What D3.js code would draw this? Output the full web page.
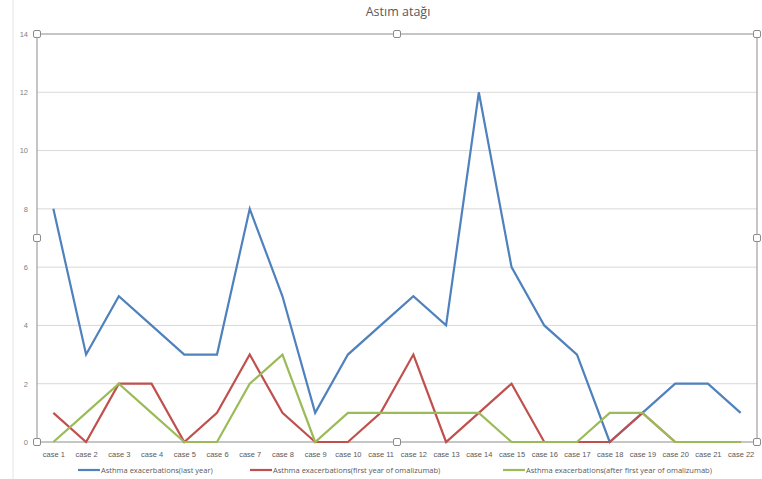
<!DOCTYPE html>
<html>
<head>
<meta charset="utf-8">
<script src="https://cdn.jsdelivr.net/npm/d3@7"></script>
<style>
  body { margin: 0; background: #fff; }
  svg { font-family: "Open Sans", "DejaVu Sans", sans-serif; }
</style>
</head>
<body>
<svg id="chart"></svg>
<script>
// chart values
const cases = d3.range(1, 23).map(i => 'case ' + i);
const lastYear = [8, 3, 5, 4, 3, 3, 8, 5, 1, 3, 4, 5, 4, 12, 6, 4, 3, 0, 1, 2, 2, 1];
const firstYear = [1, 0, 2, 2, 0, 1, 3, 1, 0, 0, 1, 3, 0, 1, 2, 0, 0, 0, 1, 0, 0, 0];
const afterFirstYear = [0, 1, 2, 1, 0, 0, 2, 3, 0, 1, 1, 1, 1, 1, 0, 0, 0, 1, 1, 0, 0, 0];
const yTicks = [0, 2, 4, 6, 8, 10, 12, 14];
const seriesNames = [
  'Asthma exacerbations(last year)',
  'Asthma exacerbations(first year of omalizumab)',
  'Asthma exacerbations(after first year of omalizumab)'
];
const seriesColors = ['#4f81bd', '#c0504d', '#9bbb59'];

const width = 762, height = 479;
const margin = { top: 34, right: 5, bottom: 37, left: 37 };
const innerW = width - margin.left - margin.right;
const innerH = height - margin.top - margin.bottom;

const svg = d3.select('#chart')
  .attr('width', width)
  .attr('height', height);

// outer chart frame (faint)
svg.append('line')
  .attr('x1', 13).attr('x2', 13)
  .attr('y1', 0).attr('y2', height)
  .attr('stroke', '#e4e4e4');

svg.append('text')
  .attr('x', 398)
  .attr('y', 16)
  .attr('text-anchor', 'middle')
  .attr('fill', '#595959')
  .style('font-size', '12.5px')
  .text('Astım atağı');

const g = svg.append('g')
  .attr('transform', `translate(${margin.left},${margin.top})`);

const x = d3.scalePoint()
  .domain(cases)
  .range([0, innerW])
  .padding(0.5);

const y = d3.scaleLinear()
  .domain([0, 14])
  .range([innerH, 0]);

// gridlines
g.append('g')
  .selectAll('line')
  .data(yTicks.filter(d => d > 0 && d < 14))
  .join('line')
  .attr('x1', 0).attr('x2', innerW)
  .attr('y1', d => y(d)).attr('y2', d => y(d))
  .attr('stroke', '#d9d9d9');

// y axis labels
const yAxis = d3.axisLeft(y).tickValues(yTicks).tickSize(0).tickPadding(9);
g.append('g')
  .call(yAxis)
  .call(s => s.select('.domain').remove())
  .selectAll('text')
  .attr('fill', '#7f7f7f')
  .style('font-size', '7.5px');

// x axis labels
const xAxis = d3.axisBottom(x).tickSize(0).tickPadding(10);
g.append('g')
  .attr('transform', `translate(0,${innerH})`)
  .call(xAxis)
  .call(s => s.select('.domain').remove())
  .selectAll('text')
  .attr('fill', '#595959')
  .style('font-size', '7.5px');

// plot area frame (selected)
g.append('rect')
  .attr('width', innerW)
  .attr('height', innerH)
  .attr('fill', 'none')
  .attr('stroke', '#a0a0a0')
  .attr('stroke-width', 1.2);

// lines
const allSeries = [lastYear, firstYear, afterFirstYear];
const line = d3.line()
  .x((d, i) => x(cases[i]))
  .y(d => y(d));

g.selectAll('.series')
  .data(allSeries)
  .join('path')
  .attr('class', 'series')
  .attr('d', line)
  .attr('fill', 'none')
  .attr('stroke', (d, i) => seriesColors[i])
  .attr('stroke-width', 2.2)
  .attr('stroke-linejoin', 'miter');

// selection handles
const handles = [];
[0, innerW / 2, innerW].forEach(hx => {
  [0, innerH / 2, innerH].forEach(hy => {
    if (!(hx === innerW / 2 && hy === innerH / 2)) handles.push([hx, hy]);
  });
});
g.selectAll('.handle')
  .data(handles)
  .join('rect')
  .attr('class', 'handle')
  .attr('x', d => d[0] - 3.5)
  .attr('y', d => d[1] - 3.5)
  .attr('width', 7).attr('height', 7)
  .attr('rx', 1.5)
  .attr('fill', '#fff')
  .attr('stroke', '#8c8c8c');

// legend
const legendX = [78, 250, 503];
const legend = svg.append('g')
  .selectAll('g')
  .data(seriesNames)
  .join('g')
  .attr('transform', (d, i) => `translate(${legendX[i]},470)`);

legend.append('line')
  .attr('x1', 0).attr('x2', 22)
  .attr('stroke', (d, i) => seriesColors[i])
  .attr('stroke-width', 2.2);

legend.append('text')
  .attr('x', 23)
  .attr('dy', '0.35em')
  .attr('fill', '#595959')
  .style('font-size', '7.5px')
  .text(d => d);
</script>
</body>
</html>
